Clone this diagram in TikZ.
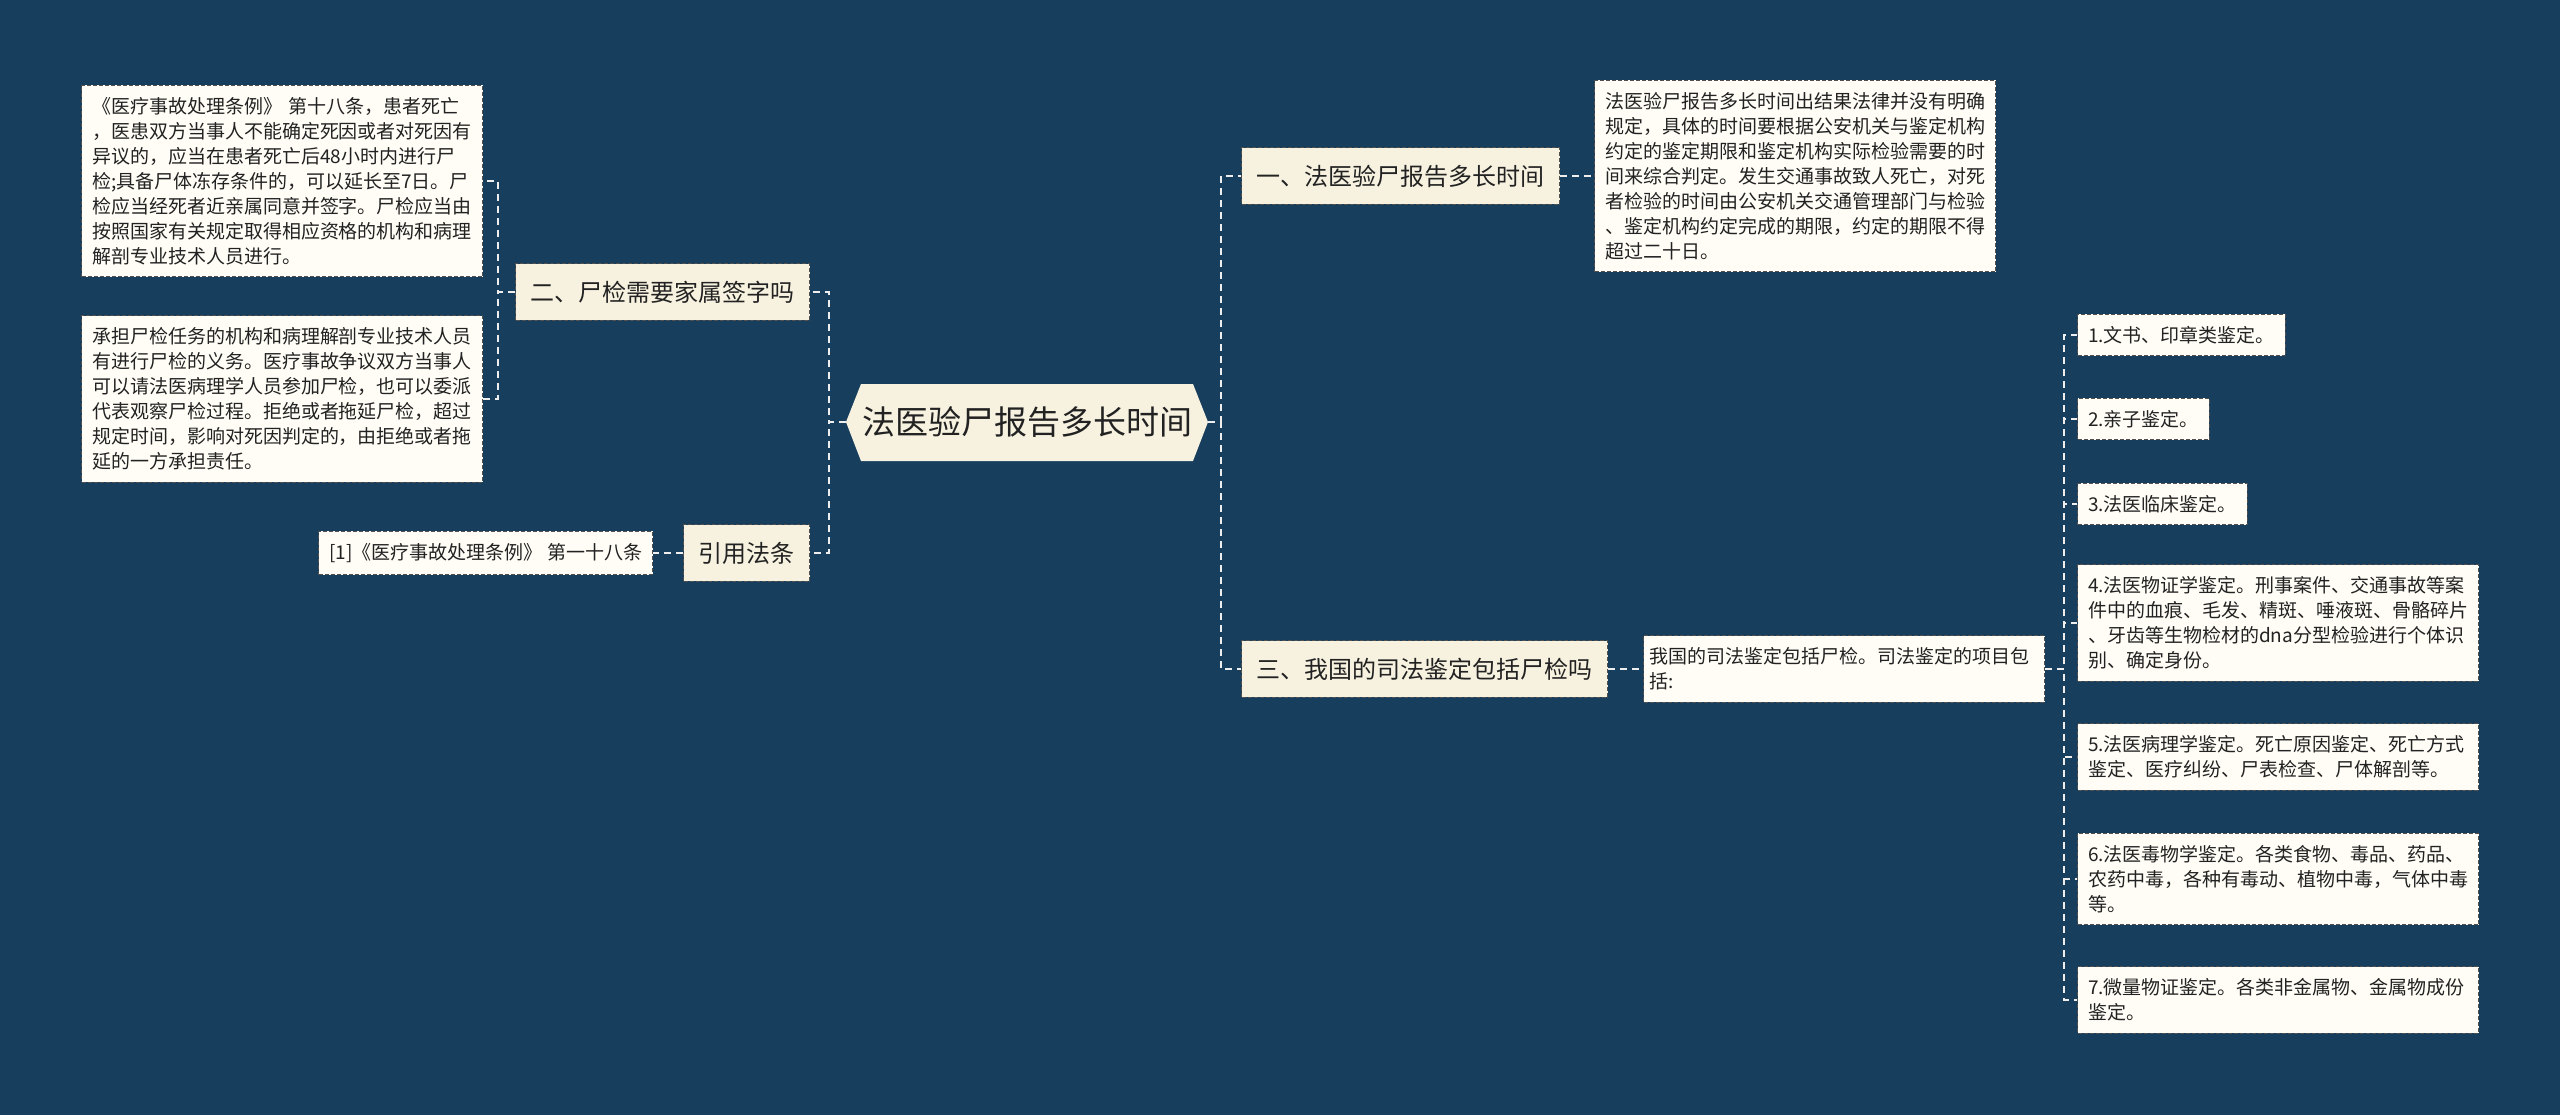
\documentclass[tikz,border=0pt]{standalone}
\usepackage{fontspec}
\setmainfont{Noto Sans CJK SC}
\definecolor{bg}{HTML}{183E5E}
\definecolor{cream}{HTML}{F7F2E0}
\definecolor{leafc}{HTML}{FFFDF6}
\definecolor{bord}{HTML}{505050}
\definecolor{connc}{HTML}{EEEEEE}
\definecolor{txt}{HTML}{222222}
\begin{document}
\begin{tikzpicture}[x=1pt,y=-1pt,
  box/.style={draw=bord, line width=1pt, dash pattern=on 4pt off 2pt, text=txt, inner ysep=12pt, inner xsep=10.5pt},
  lvl/.style={box, fill=cream, font=\fontsize{24}{30}\selectfont, inner xsep=15pt, inner ysep=17pt},
  lf/.style={box, fill=leafc, font=\fontsize{19}{25}\selectfont},
  lfw/.style={lf, text width=380pt, align=left},
  conn/.style={draw=connc, line width=2pt, dash pattern=on 7pt off 5pt}]
\useasboundingbox (0,0) rectangle (2560,1115);
\fill[bg] (0,0) rectangle (2560,1115);

% centre
\fill[cream] (846,422) -- (861,384) -- (1193,384) -- (1208,422) -- (1193,461) -- (861,461) -- cycle;
\node[inner sep=0pt, minimum width=362pt, minimum height=77pt, text=txt, font=\fontsize{33}{38}\selectfont] (c) at (1027,422) {法医验尸报告多长时间};

% level 1
\node[lvl, anchor=west] (n1) at (1241,176) {一、法医验尸报告多长时间};
\node[lvl, anchor=west] (n3) at (1241,669) {三、我国的司法鉴定包括尸检吗};
\node[lvl, anchor=east] (n2) at (810,292) {二、尸检需要家属签字吗};
\node[lvl, anchor=east] (n4) at (810,553) {引用法条};

% left leaves
\node[lfw, anchor=east] (l1) at (483,181) {《医疗事故处理条例》 第十八条，患者死亡\\，医患双方当事人不能确定死因或者对死因有\\异议的，应当在患者死亡后48小时内进行尸\\检;具备尸体冻存条件的，可以延长至7日。尸\\检应当经死者近亲属同意并签字。尸检应当由\\按照国家有关规定取得相应资格的机构和病理\\解剖专业技术人员进行。};
\node[lfw, anchor=east] (l2) at (483,399) {承担尸检任务的机构和病理解剖专业技术人员\\有进行尸检的义务。医疗事故争议双方当事人\\可以请法医病理学人员参加尸检，也可以委派\\代表观察尸检过程。拒绝或者拖延尸检，超过\\规定时间，影响对死因判定的，由拒绝或者拖\\延的一方承担责任。};
\node[lf, anchor=east] (l3) at (653,553) {[1]《医疗事故处理条例》 第一十八条};

% right leaves
\node[lfw, anchor=west] (r1) at (1594,176) {法医验尸报告多长时间出结果法律并没有明确\\规定，具体的时间要根据公安机关与鉴定机构\\约定的鉴定期限和鉴定机构实际检验需要的时\\间来综合判定。发生交通事故致人死亡，对死\\者检验的时间由公安机关交通管理部门与检验\\、鉴定机构约定完成的期限，约定的期限不得\\超过二十日。};
\node[lfw, anchor=west, inner xsep=6pt, text width=389pt] (r3) at (1643,669) {我国的司法鉴定包括尸检。司法鉴定的项目包\\括:};

% sub leaves
\node[lf, anchor=west] (s1) at (2077,335) {1.文书、印章类鉴定。};
\node[lf, anchor=west] (s2) at (2077,419) {2.亲子鉴定。};
\node[lf, anchor=west] (s3) at (2077,504) {3.法医临床鉴定。};
\node[lfw, anchor=west] (s4) at (2077,623) {4.法医物证学鉴定。刑事案件、交通事故等案\\件中的血痕、毛发、精斑、唾液斑、骨骼碎片\\、牙齿等生物检材的dna分型检验进行个体识\\别、确定身份。};
\node[lfw, anchor=west] (s5) at (2077,757) {5.法医病理学鉴定。死亡原因鉴定、死亡方式\\鉴定、医疗纠纷、尸表检查、尸体解剖等。};
\node[lfw, anchor=west] (s6) at (2077,879) {6.法医毒物学鉴定。各类食物、毒品、药品、\\农药中毒，各种有毒动、植物中毒，气体中毒\\等。};
\node[lfw, anchor=west] (s7) at (2077,1000) {7.微量物证鉴定。各类非金属物、金属物成份\\鉴定。};

% connectors
\draw[conn] (c.east) -- ++(13,0) |- (n1.west);
\draw[conn] (c.east) -- ++(13,0) |- (n3.west);
\draw[conn] (c.west) -- ++(-17,0) |- (n2.east);
\draw[conn] (c.west) -- ++(-17,0) |- (n4.east);
\draw[conn] (n2.west) -- ++(-17,0) |- (l1.east);
\draw[conn] (n2.west) -- ++(-17,0) |- (l2.east);
\draw[conn] (n4.west) -- (l3.east);
\draw[conn] (n1.east) -- (r1.west);
\draw[conn] (n3.east) -- (r3.west);
\foreach \s in {s1,s2,s3,s4,s5,s6,s7}
  \draw[conn] (r3.east) -- ++(19,0) |- (\s.west);
\end{tikzpicture}
\end{document}
